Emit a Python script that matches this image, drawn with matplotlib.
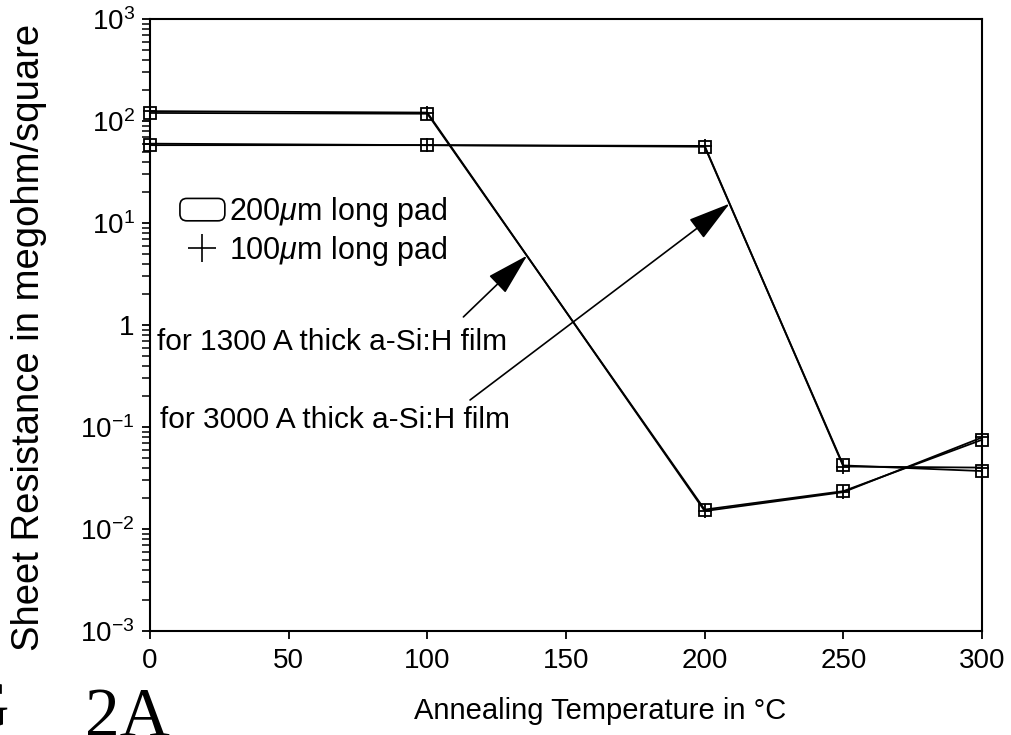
import matplotlib
matplotlib.use("Agg")
import matplotlib.pyplot as plt
from matplotlib.lines import Line2D
from matplotlib.patches import Patch, FancyBboxPatch
from matplotlib.legend_handler import HandlerPatch

plt.rcParams['font.family'] = ['Liberation Sans', 'DejaVu Sans']
plt.rcParams['mathtext.fontset'] = 'custom'
plt.rcParams['mathtext.rm'] = 'Liberation Sans'
plt.rcParams['mathtext.it'] = 'Liberation Sans:italic'
plt.rcParams['mathtext.bf'] = 'Liberation Sans:bold'

# ---- data ----
temps = [0, 100, 200, 250, 300]
film1300_200um = [120, 118, 0.0155, 0.0235, 0.075]
film1300_100um = [125, 121, 0.0150, 0.0230, 0.079]
film3000_200um = [58, 58, 56, 0.042, 0.037]
film3000_100um = [60, 58, 57, 0.041, 0.040]

xticks = [0, 50, 100, 150, 200, 250, 300]
yticks = [1e-3, 1e-2, 1e-1, 1, 1e1, 1e2, 1e3]
ytick_labels = [r'$10^{-3}$', r'$10^{-2}$', r'$10^{-1}$', '1',
                r'$10^{1}$', r'$10^{2}$', r'$10^{3}$']
legend_labels = [r'200$\mu$m long pad', r'100$\mu$m long pad']
note_1300 = 'for 1300 A thick a-Si:H film'
note_3000 = 'for 3000 A thick a-Si:H film'
xlabel = 'Annealing Temperature in °C'
ylabel = 'Sheet Resistance in megohm/square'

fig = plt.figure(figsize=(10.12, 7.35), dpi=100)
ax = fig.add_axes([0.1482, 0.1415, 0.8222, 0.8326])

lw = 1.3
for ys in (film1300_200um, film3000_200um):
    ax.plot(temps, ys, color='black', lw=lw, marker='s', ms=8.5,
            mfc='none', mec='black', mew=1.3, clip_on=False)
for ys in (film1300_100um, film3000_100um):
    ax.plot(temps, ys, color='black', lw=lw, marker='+', ms=10,
            mec='black', mew=1.3, clip_on=False)

ax.set_yscale('log')
ax.set_xlim(0, 300)
ax.set_ylim(1e-3, 1e3)
ax.set_xticks(xticks)
ax.set_yticks(yticks, ytick_labels)
ax.tick_params(axis='both', direction='out', length=6, width=1.3,
               labelsize=20, colors='black')
ax.tick_params(axis='y', which='minor', direction='out', length=5.5, width=1.1)
ax.tick_params(axis='x', pad=6)
ax.tick_params(axis='y', pad=5)
for s in ax.spines.values():
    s.set_linewidth(1.5)

ax.set_xlabel(xlabel, fontsize=21)
ax.xaxis.set_label_coords(0.541, -0.108)
ax.set_ylabel(ylabel, fontsize=27.5)
ax.yaxis.set_label_coords(-0.124, 0.480)

# legend
def round_box(legend, orig_handle, xdescent, ydescent, width, height, fontsize):
    return FancyBboxPatch((-xdescent, -ydescent), width, height,
                          boxstyle='round,pad=0,rounding_size=5')

h_box = Patch(facecolor='white', edgecolor='black', lw=1.2)
h_plus = Line2D([], [], ls='none', marker='+', ms=20, mew=1.2, color='black')
ax.legend([h_box, h_plus], legend_labels, loc='upper left',
          bbox_to_anchor=(0.036, 0.712), frameon=False, fontsize=22,
          handlelength=1.47, handleheight=0.75, handletextpad=0.12,
          borderpad=0, borderaxespad=0, labelspacing=0.15,
          handler_map={Patch: HandlerPatch(patch_func=round_box)})

# notes and arrows
ax.text(2.5, 0.68, note_1300, fontsize=21.5, va='center', ha='left')
ax.text(3.6, 0.117, note_3000, fontsize=21.5, va='center', ha='left')
arrow = dict(arrowstyle='-|>,head_length=0.9,head_width=0.25',
             mutation_scale=30, lw=1.2, color='black', shrinkA=0, shrinkB=0)
ax.annotate('', xy=(136, 4.8), xytext=(113, 1.2), arrowprops=arrow)
ax.annotate('', xy=(209, 15.5), xytext=(115.4, 0.184), arrowprops=arrow)

# figure caption (partially cut off at the left and bottom edges, as in the scan)
fig.text(9 / 1012, 1 - 728 / 735, 'FIG', fontsize=48,
         family='Liberation Serif', ha='right', va='baseline')
fig.text(85 / 1012, 1 - 736 / 735, '2A', fontsize=50,
         family='Liberation Serif', ha='left', va='baseline')

fig.savefig('out.png', dpi=100)
